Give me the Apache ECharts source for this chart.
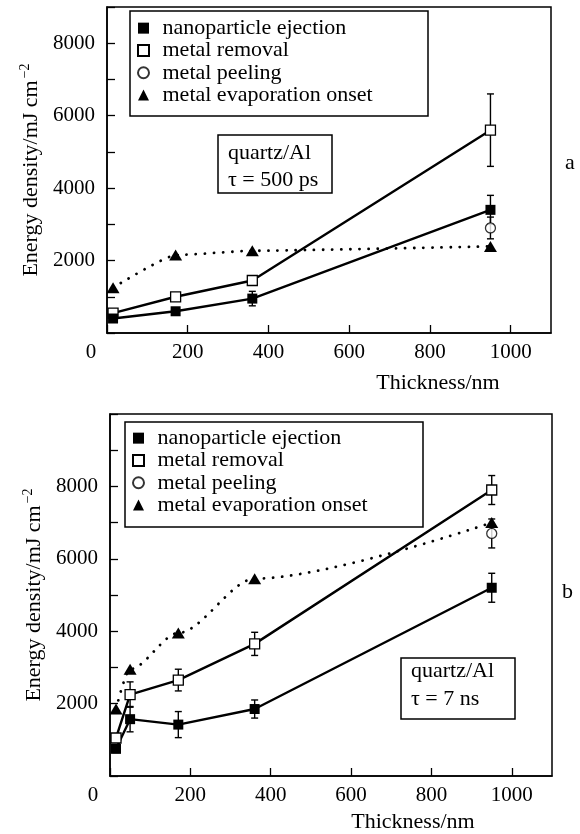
<!DOCTYPE html>
<html>
<head>
<meta charset="utf-8">
<script src="https://cdn.jsdelivr.net/npm/echarts@6/dist/echarts.min.js"></script>
<style>html,body{margin:0;padding:0;background:#fff;}#c{width:580px;height:834px;}</style>
</head>
<body>
<div id="c"></div>
<script>
// ---- data: panel a (quartz/Al, 500 ps)
var thickA = [15, 170, 360, 950];
var nanoA = [400, 600, 950, 3400];
var nanoErrA = [60, 60, 200, 400];
var removalA = [550, 1000, 1450, 5600];
var removalErrA = [80, 60, 100, 1000];
var peelThickA = [950];
var peelA = [2900];
var peelErrA = [300];
var evapA = [1250, 2150, 2270, 2390];

// ---- data: panel b (quartz/Al, 7 ns)
var thickB = [15, 50, 170, 360, 950];
var nanoB = [750, 1570, 1420, 1850, 5200];
var nanoErrB = [100, 350, 360, 250, 400];
var removalB = [1050, 2250, 2650, 3650, 7900];
var removalErrB = [100, 350, 300, 320, 400];
var peelThickB = [950];
var peelB = [6700];
var peelErrB = [400];
var evapB = [1850, 2950, 3950, 5450, 7000];

var seriesNames = ['nanoparticle ejection', 'metal removal', 'metal peeling', 'metal evaporation onset'];
var xTicks = [0, 200, 400, 600, 800, 1000];
var yMaxA = 9000, yMaxB = 10000;

var FONT = 'Liberation Serif';

function pairs(xs, ys) { return xs.map(function (x, i) { return [x, ys[i]]; }); }
function errs(xs, ys, es) { return xs.map(function (x, i) { return [x, ys[i], es[i]]; }); }

function errorSeries(idx, data) {
  return {
    type: 'custom', xAxisIndex: idx, yAxisIndex: idx, z: 1, silent: true,
    encode: { x: 0, y: 1 },
    data: data,
    renderItem: function (params, api) {
      var x = api.value(0), y = api.value(1), e = api.value(2);
      var hi = api.coord([x, y + e]), lo = api.coord([x, y - e]);
      var w = 3.5;
      var st = { stroke: '#000', lineWidth: 1.4 };
      return { type: 'group', children: [
        { type: 'line', shape: { x1: hi[0], y1: hi[1], x2: lo[0], y2: lo[1] }, style: st },
        { type: 'line', shape: { x1: hi[0] - w, y1: hi[1], x2: hi[0] + w, y2: hi[1] }, style: st },
        { type: 'line', shape: { x1: lo[0] - w, y1: lo[1], x2: lo[0] + w, y2: lo[1] }, style: st }
      ]};
    }
  };
}

function panelSeries(idx, th, nano, nanoE, rem, remE, pth, peel, peelE, evap, sm) {
  var allErr = errs(th, nano, nanoE).concat(errs(th, rem, remE)).concat(errs(pth, peel, peelE));
  return [
    errorSeries(idx, allErr),
    { name: seriesNames[3], type: 'line', xAxisIndex: idx, yAxisIndex: idx, z: 3,
      data: pairs(th, evap), smooth: sm, smoothMonotone: 'x', symbol: 'triangle', symbolSize: [13, 11],
      itemStyle: { color: '#000' },
      lineStyle: { color: '#000', width: 2.8, type: [0.1, 9], cap: 'round' } },
    { name: seriesNames[1], type: 'line', xAxisIndex: idx, yAxisIndex: idx, z: 3,
      data: pairs(th, rem), symbol: 'rect', symbolSize: 10,
      itemStyle: { color: '#fff', borderColor: '#000', borderWidth: 1.3 },
      lineStyle: { color: '#000', width: 2.4 } },
    { name: seriesNames[0], type: 'line', xAxisIndex: idx, yAxisIndex: idx, z: 3,
      data: pairs(th, nano), symbol: 'rect', symbolSize: 10,
      itemStyle: { color: '#000' },
      lineStyle: { color: '#000', width: 2.4 } },
    { name: seriesNames[2], type: 'scatter', xAxisIndex: idx, yAxisIndex: idx, z: 3,
      data: pairs(pth, peel), symbol: 'circle', symbolSize: 10,
      itemStyle: { color: '#fff', borderColor: '#000', borderWidth: 1.3 } }
  ];
}

function xAxisDef(idx, pad, zeroShift, gap) {
  return {
    type: 'value', gridIndex: idx, min: xTicks[0], max: 1100, interval: 200,
    name: 'Thickness/nm', nameLocation: 'middle', nameGap: gap,
    nameTextStyle: { fontFamily: FONT, fontSize: 22, color: '#000', padding: [0, 0, 0, pad] },
    axisLine: { lineStyle: { color: '#000', width: 1.5 } },
    axisTick: { inside: true, length: 8, lineStyle: { color: '#000', width: 1.3 } },
    splitLine: { show: false },
    axisLabel: {
      fontFamily: FONT, fontSize: 21, color: '#000', margin: 9, showMaxLabel: false,
      formatter: function (v) { return v === 0 ? '{z|0}' : (xTicks.indexOf(v) >= 0 ? String(v) : ''); },
      rich: { z: { fontFamily: FONT, fontSize: 21, color: '#000', padding: [0, zeroShift, 0, 0] } }
    }
  };
}

function yAxisDef(idx, max) {
  return {
    type: 'value', gridIndex: idx, min: 0, max: max, interval: 1000,
    name: 'Energy density/mJ cm{sup|−2}', nameLocation: 'middle', nameGap: 60,
    nameTextStyle: { fontFamily: FONT, fontSize: 22, color: '#000',
      rich: { sup: { fontFamily: FONT, fontSize: 14, color: '#000', padding: [0, 0, 12, 2] } } },
    axisLine: { lineStyle: { color: '#000', width: 1.5 } },
    axisTick: { inside: true, length: 8, lineStyle: { color: '#000', width: 1.3 } },
    splitLine: { show: false },
    axisLabel: {
      fontFamily: FONT, fontSize: 21, color: '#000', margin: 12,
      formatter: function (v) { return (v > 0 && v < max && v % 2000 === 0) ? String(v) : ''; }
    }
  };
}

function legendDef(left, top) {
  return {
    orient: 'vertical', left: left, top: top, padding: 0, itemGap: 0,
    itemWidth: 11, itemHeight: 11, selectedMode: false,
    formatter: ' {name}',
    textStyle: { fontFamily: FONT, fontSize: 22, color: '#000', lineHeight: 22.3, padding: [0, 0, 0, 3] },
    data: [
      { name: seriesNames[0], icon: 'rect' },
      { name: seriesNames[1], icon: 'rect' },
      { name: seriesNames[2], icon: 'circle' },
      { name: seriesNames[3], icon: 'triangle' }
    ]
  };
}

function textBox(x, y, w, h, lines, tx, ty, lh) {
  return {
    type: 'group', children: [
      { type: 'rect', shape: { x: x, y: y, width: w, height: h }, style: { fill: '#fff', stroke: '#000', lineWidth: 1.5 } },
      { type: 'text', x: tx, y: ty, style: { text: lines.join('\n'), fontFamily: FONT, fontSize: 22, lineHeight: lh, fill: '#000', verticalAlign: 'top' } }
    ]
  };
}

var chart = echarts.init(document.getElementById('c'), null, { renderer: 'canvas' });
chart.setOption({
  animation: false,
  backgroundColor: '#fff',
  grid: [
    { left: 107, top: 7, width: 444, height: 326, show: true, borderColor: '#000', borderWidth: 1.5, backgroundColor: 'transparent' },
    { left: 110, top: 414, width: 442, height: 363, show: true, borderColor: '#000', borderWidth: 1.5, backgroundColor: 'transparent' }
  ],
  xAxis: [xAxisDef(0, 218, 32, 39), xAxisDef(1, 164, 34, 35)],
  yAxis: [yAxisDef(0, yMaxA), yAxisDef(1, yMaxB)],
  legend: [legendDef(137, 17), legendDef(132, 427)],
  graphic: [
    { type: 'rect', z: 0, shape: { x: 130, y: 11, width: 298, height: 105 }, style: { fill: '#fff', stroke: '#000', lineWidth: 1.5 } },
    { type: 'rect', z: 0, shape: { x: 125, y: 422, width: 298, height: 105 }, style: { fill: '#fff', stroke: '#000', lineWidth: 1.5 } },
    textBox(218, 135, 114, 58, ['quartz/Al', 'τ = 500 ps'], 228, 140, 27),
    textBox(401, 658, 114, 61, ['quartz/Al', 'τ = 7 ns'], 411, 657, 28),
    { type: 'text', x: 565, y: 152, style: { text: 'a', fontFamily: FONT, fontSize: 22, fill: '#000' } },
    { type: 'text', x: 562, y: 581, style: { text: 'b', fontFamily: FONT, fontSize: 22, fill: '#000' } }
  ],
  series: panelSeries(0, thickA, nanoA, nanoErrA, removalA, removalErrA, peelThickA, peelA, peelErrA, evapA, 0.15)
    .concat(panelSeries(1, thickB, nanoB, nanoErrB, removalB, removalErrB, peelThickB, peelB, peelErrB, evapB, 0.3))
});
</script>
</body>
</html>
